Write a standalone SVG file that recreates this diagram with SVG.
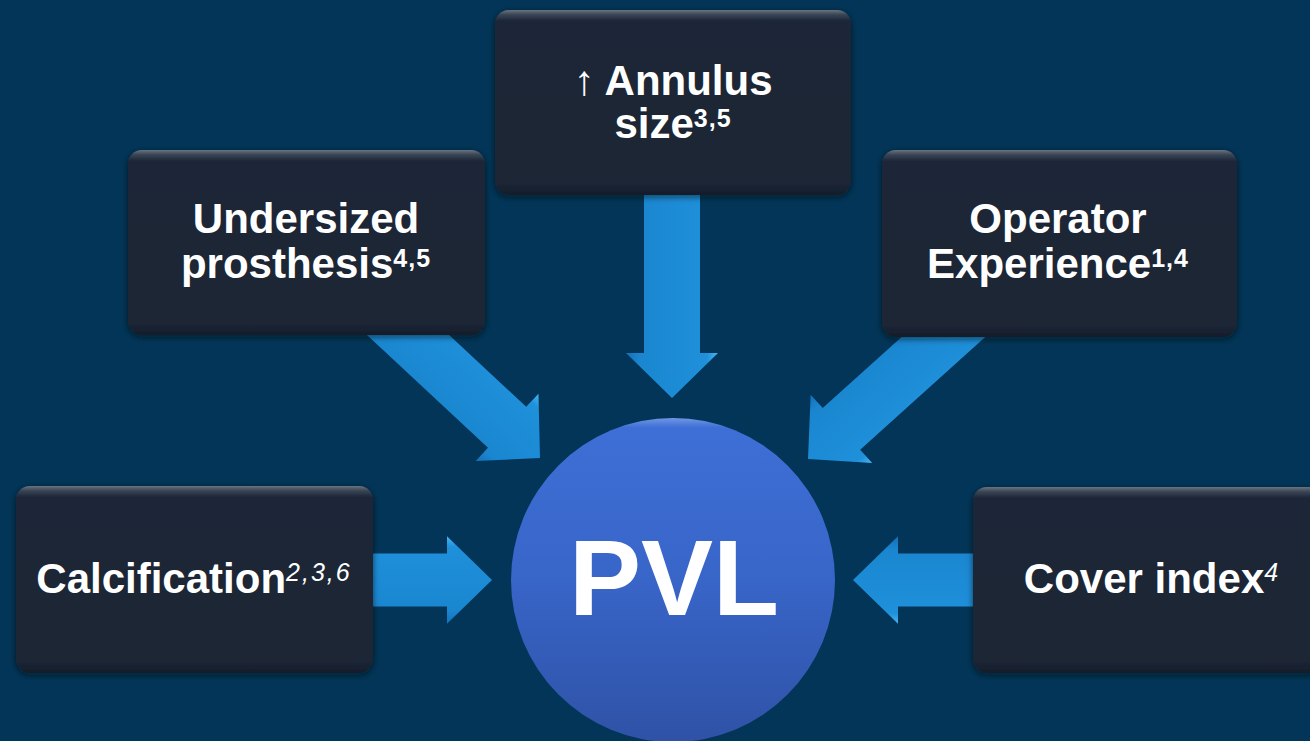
<svg xmlns="http://www.w3.org/2000/svg" width="1310" height="741" viewBox="0 0 1310 741">
  <defs>
    <linearGradient id="boxFill" x1="0" y1="0" x2="0" y2="1">
      <stop offset="0" stop-color="#6a7480"/>
      <stop offset="0.025" stop-color="#3a4555"/>
      <stop offset="0.06" stop-color="#1c2637"/>
      <stop offset="0.94" stop-color="#1b2535"/>
      <stop offset="1" stop-color="#151d2a"/>
    </linearGradient>
    <linearGradient id="arrowFill" x1="0" y1="0" x2="0" y2="1">
      <stop offset="0" stop-color="#49b6f4"/>
      <stop offset="0.12" stop-color="#1f90da"/>
      <stop offset="0.85" stop-color="#1a86d0"/>
      <stop offset="1" stop-color="#1470b8"/>
    </linearGradient>
    <linearGradient id="discFill" x1="0" y1="0" x2="0" y2="1">
      <stop offset="0" stop-color="#7096e6"/>
      <stop offset="0.03" stop-color="#3e6fd6"/>
      <stop offset="0.5" stop-color="#3865c8"/>
      <stop offset="1" stop-color="#2f52a6"/>
    </linearGradient>
    <filter id="shadow" x="-10%" y="-10%" width="120%" height="125%">
      <feDropShadow dx="0" dy="2" stdDeviation="3" flood-color="#000814" flood-opacity="0.6"/>
    </filter>
    <!-- block arrow pointing right, tip at origin -->
    <path id="arrow" d="M-220,-28 L-45,-28 L-45,-46 L0,0 L-45,46 L-45,28 L-220,28 Z"/>
  </defs>
  <style>
    .box { fill: url(#boxFill); filter: url(#shadow); }
    .lbl { font-family: "Liberation Sans", Arial, sans-serif; font-weight: bold; font-size: 42px; fill: #ffffff; text-anchor: middle; }
    .sup { font-size: 25px; letter-spacing: 1px; }
    .supi { font-size: 25px; font-style: italic; font-weight: normal; letter-spacing: 2px; }
    .arr { fill: url(#arrowFill); }
  </style>

  <rect width="1310" height="741" fill="#023557"/>

  <!-- connectors: block arrows feeding into the central disc -->
  <g id="connectors">
    <use href="#arrow" class="arr" transform="translate(672,398) rotate(90)"/>
    <use href="#arrow" class="arr" transform="translate(540,458) rotate(43)"/>
    <use href="#arrow" class="arr" transform="translate(808,459) rotate(138)"/>
    <use href="#arrow" class="arr" transform="translate(492,580) scale(1,0.95)"/>
    <use href="#arrow" class="arr" transform="translate(853,580) rotate(180) scale(1,0.95)"/>
  </g>

  <g id="node-annulus">
    <rect class="box" x="495" y="10" width="356" height="185" rx="14"/>
    <text class="lbl" x="673" y="95">↑ Annulus</text>
    <text class="lbl" x="673" y="138">size<tspan class="sup" dy="-11">3,5</tspan></text>
  </g>

  <g id="node-undersized">
    <rect class="box" x="128" y="150" width="357" height="185" rx="14"/>
    <text class="lbl" x="306" y="233">Undersized</text>
    <text class="lbl" x="306" y="278">prosthesis<tspan class="sup" dy="-11">4,5</tspan></text>
  </g>

  <g id="node-operator">
    <rect class="box" x="882" y="150" width="355" height="187" rx="14"/>
    <text class="lbl" x="1058" y="233">Operator</text>
    <text class="lbl" x="1058" y="278">Experience<tspan class="sup" dy="-11">1,4</tspan></text>
  </g>

  <g id="node-calcification">
    <rect class="box" x="16" y="486" width="357" height="187" rx="14"/>
    <text class="lbl" x="194" y="593">Calcification<tspan class="supi" dy="-12">2,3,6</tspan></text>
  </g>

  <g id="node-cover">
    <rect class="box" x="973" y="487" width="360" height="186" rx="14"/>
    <text class="lbl" x="1152" y="593">Cover index<tspan class="supi" dy="-12">4</tspan></text>
  </g>

  <g id="node-pvl">
    <circle cx="673" cy="580" r="162" fill="url(#discFill)"/>
    <text x="674" y="615" font-family="Liberation Sans, Arial, sans-serif" font-weight="bold" font-size="108" fill="#ffffff" text-anchor="middle">PVL</text>
  </g>
</svg>
